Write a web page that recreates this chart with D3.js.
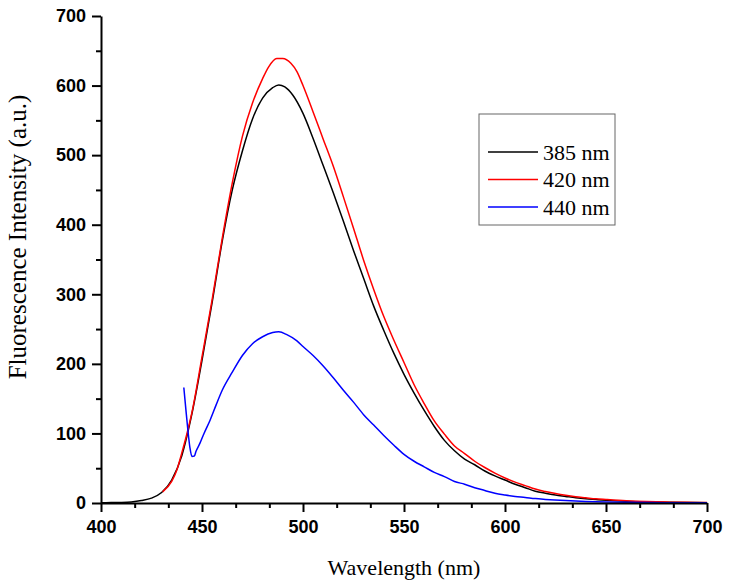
<!DOCTYPE html>
<html>
<head>
<meta charset="utf-8">
<script src="https://cdn.jsdelivr.net/npm/d3@7"></script>
<style>
  body { margin: 0; background: #fff; }
  svg { display: block; }
</style>
</head>
<body>
<svg id="chart" width="729" height="584"></svg>
<script>
const seriesNames = ['385 nm', '420 nm', '440 nm'];
const seriesColors = ['#000000', '#ff0000', '#0000ff'];

// black, excitation 385 nm
const wl385 = [400, 405, 410, 415, 420, 425, 430, 435, 440, 445, 450, 455, 460, 465, 470, 475, 480, 485, 488, 491, 495, 500, 505, 510, 515, 520, 525, 530, 535, 540, 545, 550, 555, 560, 565, 570, 575, 580, 585, 590, 595, 600, 605, 610, 615, 620, 625, 630, 635, 640, 645, 650, 660, 670, 680, 690, 700];
const int385 = [0.5, 0.6, 0.8, 1.5, 3.5, 7, 15, 33, 68, 128, 205, 288, 376, 450, 506, 552, 582, 597, 601, 598, 586, 560, 524, 485, 446, 405, 363, 323, 283, 248, 215, 185, 158, 133, 110, 90, 75, 63, 55, 46, 39, 33, 27, 22, 17, 14, 11.5, 9.5, 7.5, 6, 5, 4, 2.5, 1.6, 1.0, 0.7, 0.5];

// red, excitation 420 nm
const wl420 = [430.5, 435, 437.5, 440, 443, 445, 450, 455, 460, 465, 470, 475, 480, 483, 487, 490, 494, 497, 500, 505, 510, 515, 520, 525, 530, 535, 540, 545, 550, 555, 560, 565, 570, 575, 580, 585, 590, 595, 600, 605, 610, 615, 620, 625, 630, 635, 640, 645, 650, 660, 670, 680, 690, 700];
const int420 = [16, 31, 47, 72, 105, 130, 210, 292, 380, 460, 527, 575, 610, 627, 639, 639, 632, 620, 600, 562, 523, 484, 440, 395, 349, 307, 268, 234, 202, 170, 143, 118, 99, 82, 71, 60, 51, 43, 36, 30, 25, 20, 16.5, 13.5, 11, 9, 7.5, 6, 5, 3.2, 2.0, 1.3, 0.9, 0.7];

// blue, excitation 440 nm
const wl440 = [441, 442, 443, 444, 445, 446.2, 447, 449, 451, 454, 457, 460, 465, 470, 475, 480, 485, 488, 492, 497, 500, 505, 510, 515, 520, 525, 530, 535, 540, 545, 550, 555, 560, 565, 570, 575, 580, 585, 590, 595, 600, 605, 610, 615, 620, 630, 640, 650, 660, 680, 700];
const int440 = [166, 135, 105, 80, 67, 67.5, 74, 86, 100, 119, 141, 162, 188, 212, 229, 239, 245, 246, 242, 233, 225, 212, 197, 180, 162, 145, 127, 112, 97, 83, 70, 60, 52, 44, 38, 31, 27, 22, 18, 14, 11.5, 9.5, 8, 6.3, 5.2, 3.5, 2.3, 1.5, 1, 0.5, 0.3];

const xTicks = [400, 450, 500, 550, 600, 650, 700];
const yTicks = [0, 100, 200, 300, 400, 500, 600, 700];

const svg = d3.select('#chart');
const margin = { left: 101, right: 22, top: 16, bottom: 81 };
const W = +svg.attr('width'), H = +svg.attr('height');

const x = d3.scaleLinear().domain([400, 700]).range([margin.left, W - margin.right]);
const y = d3.scaleLinear().domain([0, 700]).range([H - margin.bottom, margin.top]);

const series = [
  { wl: wl385, v: int385 },
  { wl: wl420, v: int420 },
  { wl: wl440, v: int440 }
];

const line = d3.line()
  .x(d => x(d[0]))
  .y(d => y(d[1]))
  .curve(d3.curveMonotoneX);

const plot = svg.append('g');
series.forEach((s, i) => {
  plot.append('path')
    .datum(d3.zip(s.wl, s.v))
    .attr('fill', 'none')
    .attr('stroke', seriesColors[i])
    .attr('stroke-width', 1.5)
    .attr('d', line);
});

// minor ticks: two between x majors, one between y majors
const xMinor = xTicks.slice(0, -1).flatMap(t => [t + 50 / 3, t + 100 / 3]);
const yMinor = yTicks.slice(0, -1).map(t => t + 50);

const xAxisG = svg.append('g').attr('transform', `translate(0,${y(0)})`);
xAxisG.append('g')
  .call(d3.axisBottom(x).tickValues(xMinor).tickSize(5).tickFormat(''))
  .call(g => g.select('.domain').remove());
xAxisG.append('g')
  .call(d3.axisBottom(x).tickValues(xTicks).tickSize(9).tickSizeOuter(0).tickPadding(8).tickFormat(d3.format('d')));

const yAxisG = svg.append('g').attr('transform', `translate(${x(400)},0)`);
yAxisG.append('g')
  .call(d3.axisLeft(y).tickValues(yMinor).tickSize(5).tickFormat(''))
  .call(g => g.select('.domain').remove());
yAxisG.append('g')
  .call(d3.axisLeft(y).tickValues(yTicks).tickSize(9).tickSizeOuter(0).tickPadding(6).tickFormat(d3.format('d')));

svg.selectAll('.domain, .tick line').attr('stroke', '#000').attr('stroke-width', 2);
svg.selectAll('.tick text')
  .attr('fill', '#000')
  .style('font-family', '"Liberation Sans", Arial, sans-serif')
  .style('font-weight', 'bold')
  .style('font-size', '18px');

// axis titles
svg.append('text')
  .attr('x', (x(400) + x(700)) / 2)
  .attr('y', 575)
  .attr('text-anchor', 'middle')
  .style('font-family', '"Liberation Serif", "Times New Roman", serif')
  .style('font-size', '22px')
  .text('Wavelength (nm)');

svg.append('text')
  .attr('transform', 'translate(26,237) rotate(-90)')
  .attr('text-anchor', 'middle')
  .style('font-family', '"Liberation Serif", "Times New Roman", serif')
  .style('font-size', '25px')
  .text('Fluorescence Intensity (a.u.)');

// legend
const legend = svg.append('g').attr('transform', 'translate(479,114)');
legend.append('rect')
  .attr('width', 136).attr('height', 111)
  .attr('fill', '#fff')
  .attr('stroke', '#666')
  .attr('stroke-width', 1);
seriesNames.forEach((name, i) => {
  const ry = 38 + i * 27.5;
  legend.append('line')
    .attr('x1', 9).attr('x2', 59)
    .attr('y1', ry).attr('y2', ry)
    .attr('stroke', seriesColors[i])
    .attr('stroke-width', 1.5);
  legend.append('text')
    .attr('x', 64).attr('y', ry + 7.5)
    .style('font-family', '"Liberation Serif", "Times New Roman", serif')
    .style('font-size', '22px')
    .text(name);
});
</script>
</body>
</html>
